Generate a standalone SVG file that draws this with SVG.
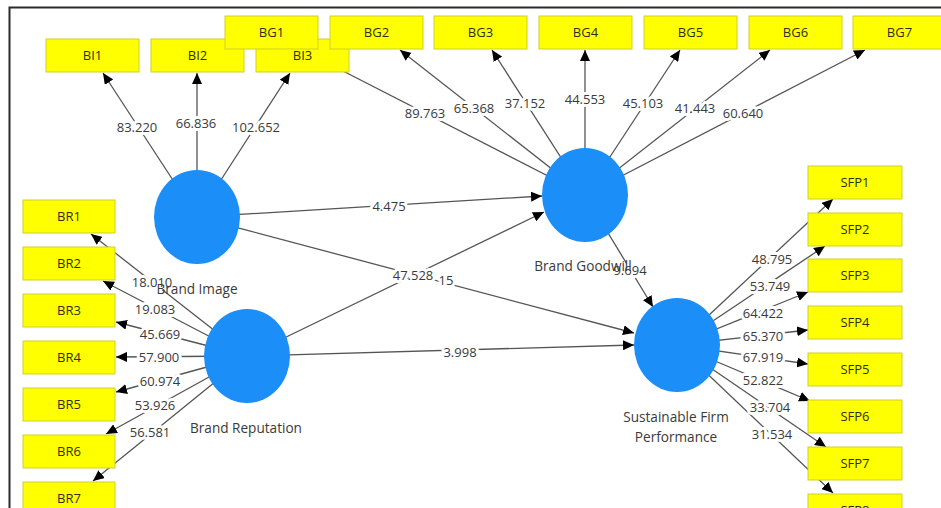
<svg xmlns="http://www.w3.org/2000/svg" width="941" height="508" viewBox="0 0 941 508">
<style>
text{font-family:"Open Sans","Noto Sans","DejaVu Sans",sans-serif;font-size:13px;fill:#3a3a3a;text-anchor:middle}
.c{stroke:#555;stroke-width:1.3;fill:none;marker-end:url(#ah)}
.lv{fill:#1b8ef8;stroke:none}
.nl{font-size:13.6px}
.bx{fill:#ffff00;stroke:#cfcf2a;stroke-width:1}
.bt{fill:#2f2f10}
.lb{stroke:#fff;stroke-width:6;paint-order:stroke;stroke-linejoin:round}
</style>
<defs>
<marker id="ah" markerUnits="userSpaceOnUse" markerWidth="11" markerHeight="10" refX="11" refY="5" orient="auto">
<path d="M0,0 L11,5 L0,10 Z" fill="#000"/>
</marker>
</defs>
<rect width="941" height="508" fill="#fff"/>
<path d="M9.5,508 V7.5 H941" fill="none" stroke="#2b2b2b" stroke-width="2"/>
<g id="connectors">
<line class="c" x1="197" y1="217" x2="103" y2="73"/>
<line class="c" x1="197" y1="217" x2="197" y2="73"/>
<line class="c" x1="197" y1="217" x2="290" y2="73"/>
<line class="c" x1="585" y1="195" x2="300" y2="49"/>
<line class="c" x1="585" y1="195" x2="400" y2="50"/>
<line class="c" x1="585" y1="195" x2="492" y2="50"/>
<line class="c" x1="585" y1="195" x2="585" y2="50"/>
<line class="c" x1="585" y1="195" x2="680" y2="50"/>
<line class="c" x1="585" y1="195" x2="770" y2="50"/>
<line class="c" x1="585" y1="195" x2="865" y2="50"/>
<line class="c" x1="247" y1="356" x2="91" y2="234"/>
<line class="c" x1="247" y1="356" x2="103" y2="281"/>
<line class="c" x1="247" y1="356" x2="116" y2="322"/>
<line class="c" x1="247" y1="356" x2="116" y2="357"/>
<line class="c" x1="247" y1="356" x2="116" y2="392"/>
<line class="c" x1="247" y1="356" x2="106" y2="434"/>
<line class="c" x1="247" y1="356" x2="93" y2="481"/>
<line class="c" x1="677" y1="345" x2="833" y2="199"/>
<line class="c" x1="677" y1="345" x2="825" y2="246"/>
<line class="c" x1="677" y1="345" x2="808" y2="292"/>
<line class="c" x1="677" y1="345" x2="808" y2="330"/>
<line class="c" x1="677" y1="345" x2="808" y2="364"/>
<line class="c" x1="677" y1="345" x2="810" y2="401"/>
<line class="c" x1="677" y1="345" x2="826" y2="447"/>
<line class="c" x1="677" y1="345" x2="833" y2="493"/>
<line class="c" x1="197" y1="217" x2="542" y2="196"/>
<line class="c" x1="247" y1="356" x2="544" y2="212"/>
<line class="c" x1="197" y1="217" x2="634" y2="333"/>
<line class="c" x1="247" y1="356" x2="634" y2="345"/>
<line class="c" x1="585" y1="195" x2="653" y2="307"/>
</g>
<g id="connector-labels">
<text class="lb" x="137" y="132">83.220</text>
<text class="lb" x="196" y="128">66.836</text>
<text class="lb" x="256" y="132">102.652</text>
<text class="lb" x="425" y="118">89.763</text>
<text class="lb" x="474" y="113">65.368</text>
<text class="lb" x="525" y="108">37.152</text>
<text class="lb" x="585" y="104">44.553</text>
<text class="lb" x="643" y="108">45.103</text>
<text class="lb" x="695" y="113">41.443</text>
<text class="lb" x="743" y="118">60.640</text>
<text class="lb" x="152" y="287">18.010</text>
<text class="lb" x="155" y="314">19.083</text>
<text class="lb" x="160" y="339">45.669</text>
<text class="lb" x="159" y="362">57.900</text>
<text class="lb" x="160" y="386">60.974</text>
<text class="lb" x="155" y="410">53.926</text>
<text class="lb" x="150" y="437">56.581</text>
<text class="lb" x="772" y="264">48.795</text>
<text class="lb" x="770" y="291">53.749</text>
<text class="lb" x="763" y="318">64.422</text>
<text class="lb" x="763" y="341">65.370</text>
<text class="lb" x="763" y="362">67.919</text>
<text class="lb" x="763" y="385">52.822</text>
<text class="lb" x="770" y="412">33.704</text>
<text class="lb" x="772" y="439">31.534</text>
<text class="lb" x="389" y="211">4.475</text>
<text class="lb" x="446" y="285">15</text>
<text class="lb" x="413" y="280">47.528</text>
<text class="lb" x="460" y="357">3.998</text>
<text class="lb" x="630" y="275">9.694</text>
</g>
<g id="BI"><ellipse class="lv" cx="197" cy="217" rx="43" ry="47"/><text class="nl" x="197" y="294">Brand Image</text></g>
<g id="BR"><ellipse class="lv" cx="247" cy="356" rx="43" ry="47"/><text class="nl" x="246" y="433">Brand Reputation</text></g>
<g id="BGW"><ellipse class="lv" cx="585" cy="195" rx="43" ry="47"/><text class="nl" x="583" y="271">Brand Goodwill</text></g>
<g id="SFP"><ellipse class="lv" cx="677" cy="345" rx="43" ry="47"/><text class="nl" x="676" y="422">Sustainable Firm</text><text class="nl" x="676" y="442">Performance</text></g>
<g id="BI1"><rect class="bx" x="46" y="39" width="93" height="33"/><text class="bt" x="92.5" y="60">BI1</text></g>
<g id="BI2"><rect class="bx" x="151" y="39" width="93" height="33"/><text class="bt" x="197.5" y="60">BI2</text></g>
<g id="BI3"><rect class="bx" x="256" y="39" width="93" height="33"/><text class="bt" x="302.5" y="60">BI3</text></g>
<g id="BG1"><rect class="bx" x="225" y="16" width="93" height="33"/><text class="bt" x="271.5" y="37">BG1</text></g>
<g id="BG2"><rect class="bx" x="330" y="16" width="93" height="33"/><text class="bt" x="376.5" y="37">BG2</text></g>
<g id="BG3"><rect class="bx" x="434" y="16" width="93" height="33"/><text class="bt" x="480.5" y="37">BG3</text></g>
<g id="BG4"><rect class="bx" x="539" y="16" width="93" height="33"/><text class="bt" x="585.5" y="37">BG4</text></g>
<g id="BG5"><rect class="bx" x="644" y="16" width="93" height="33"/><text class="bt" x="690.5" y="37">BG5</text></g>
<g id="BG6"><rect class="bx" x="749" y="16" width="93" height="33"/><text class="bt" x="795.5" y="37">BG6</text></g>
<g id="BG7"><rect class="bx" x="853" y="16" width="93" height="33"/><text class="bt" x="899.5" y="37">BG7</text></g>
<g id="BR1"><rect class="bx" x="23" y="200" width="92" height="33"/><text class="bt" x="69" y="221">BR1</text></g>
<g id="BR2"><rect class="bx" x="23" y="247" width="92" height="33"/><text class="bt" x="69" y="268">BR2</text></g>
<g id="BR3"><rect class="bx" x="23" y="294" width="92" height="33"/><text class="bt" x="69" y="315">BR3</text></g>
<g id="BR4"><rect class="bx" x="23" y="341" width="92" height="33"/><text class="bt" x="69" y="362">BR4</text></g>
<g id="BR5"><rect class="bx" x="23" y="388" width="92" height="33"/><text class="bt" x="69" y="409">BR5</text></g>
<g id="BR6"><rect class="bx" x="23" y="435" width="92" height="33"/><text class="bt" x="69" y="456">BR6</text></g>
<g id="BR7"><rect class="bx" x="23" y="482" width="92" height="33"/><text class="bt" x="69" y="503">BR7</text></g>
<g id="SFP1"><rect class="bx" x="808" y="166" width="94" height="33"/><text class="bt" x="855" y="187">SFP1</text></g>
<g id="SFP2"><rect class="bx" x="808" y="213" width="94" height="33"/><text class="bt" x="855" y="234">SFP2</text></g>
<g id="SFP3"><rect class="bx" x="808" y="259" width="94" height="33"/><text class="bt" x="855" y="280">SFP3</text></g>
<g id="SFP4"><rect class="bx" x="808" y="306" width="94" height="33"/><text class="bt" x="855" y="327">SFP4</text></g>
<g id="SFP5"><rect class="bx" x="808" y="353" width="94" height="33"/><text class="bt" x="855" y="374">SFP5</text></g>
<g id="SFP6"><rect class="bx" x="808" y="400" width="94" height="33"/><text class="bt" x="855" y="421">SFP6</text></g>
<g id="SFP7"><rect class="bx" x="808" y="447" width="94" height="33"/><text class="bt" x="855" y="468">SFP7</text></g>
<g id="SFP8"><rect class="bx" x="808" y="494" width="94" height="33"/><text class="bt" x="855" y="515">SFP8</text></g>
</svg>
